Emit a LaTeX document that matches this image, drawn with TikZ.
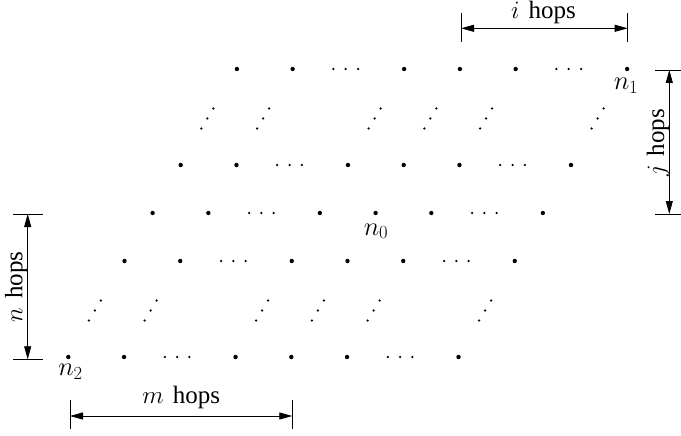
\RequirePackage{fix-cm}
\documentclass[tikz,border=0pt]{standalone}
\usepackage{fontspec}
\setmainfont{Liberation Serif}
\usetikzlibrary{arrows.meta}
\begin{document}
\begin{tikzpicture}[x=1pt,y=-1pt,
  bigdot/.style={circle,fill=black,inner sep=0pt,minimum size=4.4pt},
  smalldot/.style={circle,fill=black,inner sep=0pt,minimum size=2.5pt},
  lbl/.style={inner sep=0pt,text height=17pt,text depth=5pt,font=\fontsize{25}{30}\selectfont},
  nlbl/.style={inner sep=0pt,anchor=base,font=\fontsize{26.5}{30}\selectfont},
  dimline/.style={line width=0.8pt,{Triangle[length=13pt,width=7pt]}-{Triangle[length=13pt,width=7pt]}},
  bar/.style={line width=0.8pt}]
\useasboundingbox (0,0) rectangle (681,436);

% rows of nodes
\foreach \b in {0,2,3,4,6}{
  \foreach \a in {0,1,3,4,5,7}{
    \node[bigdot] (d\a\b) at ({68.3+55.75*\a+28.1*\b},{357-48*\b}) {};
  }
  \foreach \a in {2,6}{
    \foreach \k in {-1,0,1}{
      \node[smalldot] (c\a\b\k) at ({68.3+55.75*\a+28.1*\b-2.7+12.3*\k},{357-48*\b}) {};
    }
  }
}
% diagonal dots
\foreach \b in {1,5}{
  \foreach \a in {0,1,3,4,5,7}{
    \foreach \k in {-1,0,1}{
      \node[smalldot] (g\a\b\k) at ({68.3+55.75*\a+28.1*\b-1.5+6*\k},{357-48*\b+1.5-10*\k}) {};
    }
  }
}

% labels
\node[nlbl] (ln1) at (626,90) {$n_1$};
\node[nlbl] (ln0) at (376,235) {$n_0$};
\node[nlbl] (ln2) at (70.5,375.5) {$n_2$};

% i hops
\coordinate (iL) at (461,28.3);
\coordinate (iR) at (627.7,28.3);
\coordinate (iLt) at (461,13); \coordinate (iLb) at (461,42);
\coordinate (iRt) at (627.7,13); \coordinate (iRb) at (627.7,42);
\draw[bar] (iLt) -- (iLb);
\draw[bar] (iRt) -- (iRb);
\draw[dimline] (iL) -- (iR);
\node[lbl,anchor=base] (ti) at (543.5,19) {$i$\hspace{9pt}hops};

% m hops
\coordinate (mL) at (70,416);
\coordinate (mR) at (292.3,416);
\coordinate (mLt) at (70,400); \coordinate (mLb) at (70,429);
\coordinate (mRt) at (292.3,400); \coordinate (mRb) at (292.3,429);
\draw[bar] (mLt) -- (mLb);
\draw[bar] (mRt) -- (mRb);
\draw[dimline] (mL) -- (mR);
\node[lbl,anchor=base] (tm) at (181.2,403.3) {$m$\hspace{9pt}hops};

% j hops
\coordinate (jT) at (669.3,70);
\coordinate (jB) at (669.3,214);
\coordinate (jTl) at (655,70); \coordinate (jTr) at (681,70);
\coordinate (jBl) at (655,214); \coordinate (jBr) at (681,214);
\draw[bar] (jTl) -- (jTr);
\draw[bar] (jBl) -- (jBr);
\draw[dimline] (jT) -- (jB);
\node[lbl,rotate=90,anchor=base] (tj) at (664,143) {$j$\hspace{9pt}hops};

% n hops
\coordinate (nT) at (27.7,214);
\coordinate (nB) at (27.7,359.3);
\coordinate (nTl) at (13,214); \coordinate (nTr) at (43,214);
\coordinate (nBl) at (13,359.3); \coordinate (nBr) at (43,359.3);
\draw[bar] (nTl) -- (nTr);
\draw[bar] (nBl) -- (nBr);
\draw[dimline] (nT) -- (nB);
\node[lbl,rotate=90,anchor=base] (tn) at (22.5,286.7) {$n$\hspace{9pt}hops};
\end{tikzpicture}
\end{document}
